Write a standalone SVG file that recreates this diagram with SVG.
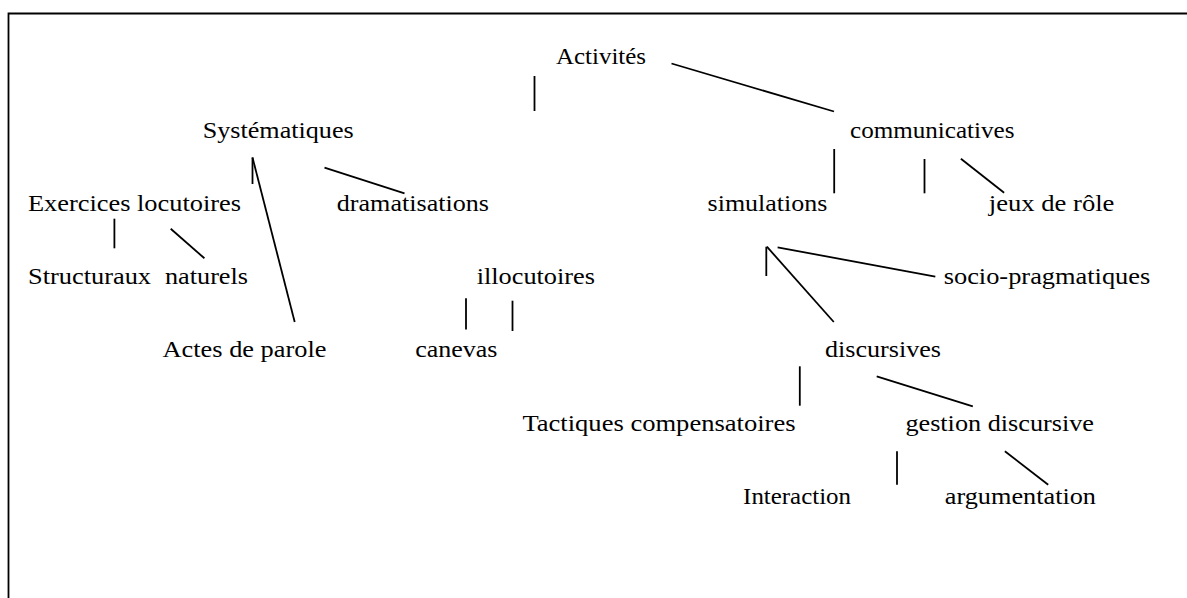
<svg xmlns="http://www.w3.org/2000/svg" width="1187" height="598" viewBox="0 0 1187 598">
<style>
text{font-family:"Liberation Serif","Times New Roman",serif;font-size:24px;fill:#000}
.c line,.frame{stroke:#000;stroke-width:1.8;fill:none}
</style>
<rect width="1187" height="598" fill="#fff"/>
<path class="frame" d="M8.5 598 V13.5 H1187"/>
<g class="c" id="connectors">
<line x1="534.5" y1="76" x2="534.5" y2="111"/>
<line x1="671.5" y1="63.5" x2="834" y2="111.5"/>
<line x1="252.5" y1="157.5" x2="252.5" y2="184"/>
<line x1="252.5" y1="157.5" x2="294.7" y2="322"/>
<line x1="324.5" y1="167.7" x2="404.5" y2="193.3"/>
<line x1="114.4" y1="218.7" x2="114.4" y2="248.3"/>
<line x1="170.7" y1="228.7" x2="204.4" y2="258.3"/>
<line x1="834.2" y1="149" x2="834.2" y2="193.3"/>
<line x1="924.5" y1="159" x2="924.5" y2="193.3"/>
<line x1="960.9" y1="158.7" x2="1004.1" y2="192.7"/>
<line x1="766.3" y1="246.7" x2="766.3" y2="276"/>
<line x1="766.9" y1="246.7" x2="833.8" y2="322"/>
<line x1="777.6" y1="247.3" x2="935.3" y2="276.7"/>
<line x1="466" y1="298.3" x2="466" y2="329.5"/>
<line x1="512.5" y1="300.7" x2="512.5" y2="331"/>
<line x1="799.8" y1="366.3" x2="799.8" y2="405.7"/>
<line x1="876.7" y1="376.3" x2="972.8" y2="406.3"/>
<line x1="897" y1="451.3" x2="897" y2="484.7"/>
<line x1="1004.9" y1="451.3" x2="1048.2" y2="484.7"/>
</g>
<g id="activites"><text x="556" y="64" textLength="90" lengthAdjust="spacingAndGlyphs">Activités</text></g>
<g id="systematiques"><text x="202.7" y="138" textLength="151" lengthAdjust="spacingAndGlyphs">Systématiques</text></g>
<g id="communicatives"><text x="850" y="138" textLength="164.5" lengthAdjust="spacingAndGlyphs">communicatives</text></g>
<g id="exercices"><text x="28" y="211" textLength="213" lengthAdjust="spacingAndGlyphs">Exercices locutoires</text></g>
<g id="dramatisations"><text x="336.8" y="211" textLength="152.2" lengthAdjust="spacingAndGlyphs">dramatisations</text></g>
<g id="simulations"><text x="707.6" y="211" textLength="119.7" lengthAdjust="spacingAndGlyphs">simulations</text></g>
<g id="jeux"><text x="988.8" y="211" textLength="125.6" lengthAdjust="spacingAndGlyphs">jeux de rôle</text></g>
<g id="structuraux"><text x="28" y="283.5" textLength="123" lengthAdjust="spacingAndGlyphs">Structuraux</text></g>
<g id="naturels"><text x="165" y="283.5" textLength="83" lengthAdjust="spacingAndGlyphs">naturels</text></g>
<g id="illocutoires"><text x="476.7" y="283.5" textLength="118.3" lengthAdjust="spacingAndGlyphs">illocutoires</text></g>
<g id="socio"><text x="943.7" y="283.5" textLength="206.6" lengthAdjust="spacingAndGlyphs">socio-pragmatiques</text></g>
<g id="actes"><text x="162.6" y="357" textLength="163.8" lengthAdjust="spacingAndGlyphs">Actes de parole</text></g>
<g id="canevas"><text x="415.2" y="357" textLength="82.3" lengthAdjust="spacingAndGlyphs">canevas</text></g>
<g id="discursives"><text x="825" y="357" textLength="116" lengthAdjust="spacingAndGlyphs">discursives</text></g>
<g id="tactiques"><text x="522.4" y="431" textLength="273.2" lengthAdjust="spacingAndGlyphs">Tactiques compensatoires</text></g>
<g id="gestion"><text x="905.4" y="431" textLength="188.6" lengthAdjust="spacingAndGlyphs">gestion discursive</text></g>
<g id="interaction"><text x="743.1" y="504" textLength="107.9" lengthAdjust="spacingAndGlyphs">Interaction</text></g>
<g id="argumentation"><text x="944.8" y="504" textLength="151.2" lengthAdjust="spacingAndGlyphs">argumentation</text></g>
</svg>
